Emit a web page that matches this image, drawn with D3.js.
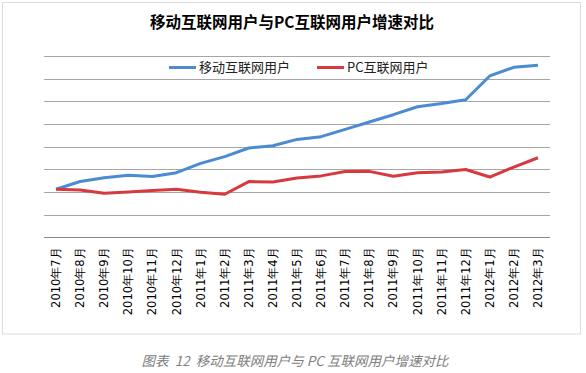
<!DOCTYPE html>
<html>
<head>
<meta charset="utf-8">
<script src="https://cdn.jsdelivr.net/npm/d3@7"></script>
<style>
  body { margin: 0; background: #fff; }
</style>
</head>
<body>
<script>
// 月份
const months = ["2010年7月", "2010年8月", "2010年9月", "2010年10月", "2010年11月", "2010年12月",
    "2011年1月", "2011年2月", "2011年3月", "2011年4月", "2011年5月", "2011年6月",
    "2011年7月", "2011年8月", "2011年9月", "2011年10月", "2011年11月", "2011年12月",
    "2012年1月", "2012年2月", "2012年3月"];
// 移动互联网用户
const mobileUsers = [2.12, 2.46, 2.63, 2.74, 2.68, 2.85, 3.26, 3.56, 3.94, 4.04, 4.32,
    4.44, 4.76, 5.09, 5.41, 5.76, 5.90, 6.07, 7.12, 7.50, 7.59];
// PC互联网用户
const pcUsers = [2.12, 2.09, 1.94, 2.00, 2.06, 2.12, 1.99, 1.90, 2.46, 2.44, 2.62,
    2.71, 2.90, 2.91, 2.69, 2.85, 2.88, 2.99, 2.66, 3.10, 3.51];
const yTicks = [0, 1, 2, 3, 4, 5, 6, 7, 8];

const seriesList = [
    {name: "移动互联网用户", values: mobileUsers, color: "#4a8bd2"},
    {name: "PC互联网用户", values: pcUsers, color: "#d63a3f"}
];

const svg = d3.select("body").append("svg").attr("width", 586).attr("height", 373);

// 外框
svg.append("rect")
    .attr("x", 2.5).attr("y", 2.5).attr("width", 578).attr("height", 331.5)
    .attr("fill", "none").attr("stroke", "#dcdcdc");

const xScale = d3.scaleBand().domain(months).range([44, 550]);
const yScale = d3.scaleLinear().domain([0, 8]).range([237.3, 56]);

// 标题
svg.append("text")
    .text("移动互联网用户与PC互联网用户增速对比")
    .attr("x", 292).attr("y", 28)
    .attr("text-anchor", "middle")
    .attr("font-family", "Noto Sans CJK SC")
    .attr("font-weight", "bold")
    .attr("font-size", "15.5px");

// 网格线
svg.append("g").selectAll("line").data(yTicks).join("line")
    .attr("x1", 44).attr("x2", 550)
    .attr("y1", d => Math.round(yScale(d)) + 0.5)
    .attr("y2", d => Math.round(yScale(d)) + 0.5)
    .attr("stroke", d => d === 0 ? "#8a8a8a" : "#a6a6a6")
    .attr("stroke-width", 1);

// 横轴标签
const xAxis = d3.axisBottom(xScale).tickSize(0).tickPadding(0);
const xAxisGroup = svg.append("g").attr("transform", `translate(0, ${yScale(0)})`).call(xAxis);
xAxisGroup.select(".domain").remove();
xAxisGroup.selectAll(".tick text")
    .attr("transform", "rotate(-90)")
    .attr("x", -10).attr("y", 0).attr("dy", "0.35em")
    .attr("text-anchor", "end")
    .attr("font-family", "DejaVu Sans")
    .attr("font-size", "11.5px")
    .attr("fill", "#000");

// 折线
const line = d3.line()
    .x((d, i) => xScale(months[i]) + xScale.bandwidth() / 2)
    .y(d => yScale(d));

svg.append("g").selectAll("path").data(seriesList).join("path")
    .attr("d", d => line(d.values))
    .attr("fill", "none")
    .attr("stroke", d => d.color)
    .attr("stroke-width", 3)
    .attr("stroke-linejoin", "round");

// 图例
const legendX = [169, 317];
const legend = svg.append("g").selectAll("g").data(seriesList).join("g")
    .attr("transform", (d, i) => `translate(${legendX[i]}, 67.5)`);
legend.append("line")
    .attr("x1", 0).attr("x2", 27)
    .attr("stroke", d => d.color).attr("stroke-width", 3);
legend.append("text")
    .text(d => d.name)
    .attr("x", 30).attr("y", 0).attr("dy", "0.35em")
    .attr("font-family", "Noto Sans CJK SC")
    .attr("font-size", "13px")
    .attr("fill", "#222");

// 图注
svg.append("text")
    .text("图表  12  移动互联网用户与 PC 互联网用户增速对比")
    .attr("x", 295).attr("y", 366)
    .attr("text-anchor", "middle")
    .attr("font-family", "Noto Sans CJK SC")
    .attr("font-style", "italic")
    .attr("font-size", "13.5px")
    .attr("fill", "#808080")
    .style("white-space", "pre");
</script>
</body>
</html>
